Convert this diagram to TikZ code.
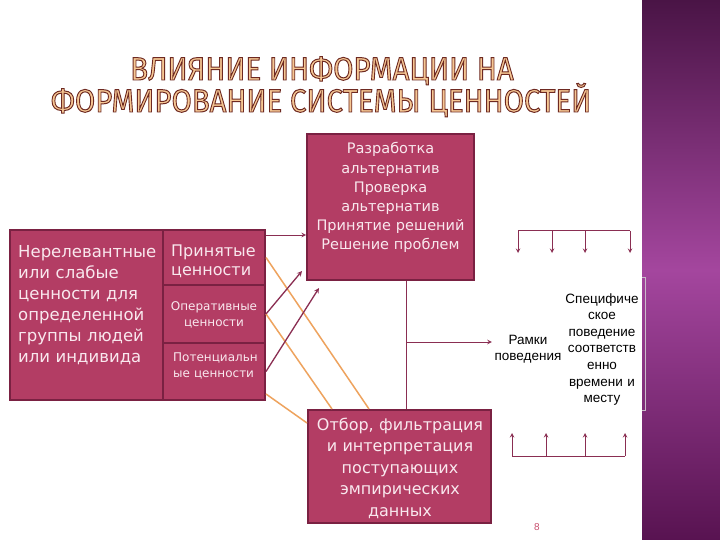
\documentclass[tikz,border=0pt]{standalone}
\usepackage{fontspec}
\setmainfont{DejaVu Sans}
\newfontfamily\arialfont{Liberation Sans}
\newfontfamily\titlefont{Fira Sans}
\definecolor{boxfill}{HTML}{B33D64}
\definecolor{boxline}{HTML}{7A2142}
\definecolor{boxtext}{HTML}{F9E8EE}
\definecolor{darkline}{HTML}{8A2E52}
\definecolor{orangeline}{HTML}{EEA35E}
\definecolor{titlefill}{HTML}{F6C794}
\definecolor{bandtop}{HTML}{4A1446}
\definecolor{bandmid}{HTML}{A4469E}
\definecolor{bandbot}{HTML}{581351}
\definecolor{bracketgray}{HTML}{C9BCC9}
\definecolor{pagenum}{HTML}{C9506F}
% outlined title letters: fill with the current colour, stroke in brown
\newcommand\outlinetext[1]{\special{pdf:literal direct 2 Tr 0.9 w 0.43 0.16 0.13 RG}#1\special{pdf:literal direct 0 Tr}}

\begin{document}
\begin{tikzpicture}[x=1pt,y=-1pt,>=stealth,
        cell/.style={draw=boxline,line width=2pt,fill=boxfill,inner sep=0pt},
        celltext/.style={text=boxtext,inner sep=0pt},
        plaintext/.style={text=black,inner sep=1pt,font=\arialfont\fontsize{13.5}{16.6}\selectfont},
        titletext/.style={anchor=base,inner sep=0pt,text=titlefill,font=\titlefont\fontsize{29.4}{30}\selectfont},
        darkarrow/.style={->,draw=darkline,line width=1.3pt},
        orangearrow/.style={draw=orangeline,line width=1.5pt}]
    \useasboundingbox (0,0) rectangle (720,540);
    \fill[white] (0,0) rectangle (720,540);
    % purple band on the right
    \shade[top color=bandtop,bottom color=bandbot,middle color=bandmid] (642,0) rectangle (720,540);
    \draw[bracketgray,line width=1pt] (642,277) -- (645,277) -- (645,410) -- (642,410);

    % title
    \node[titletext] (title1) at (322,80) {\scalebox{1}[1.1]{\outlinetext{ВЛИЯНИЕ ИНФОРМАЦИИ НА}}};
    \node[titletext] (title2) at (321,112) {\scalebox{1}[1.1]{\outlinetext{ФОРМИРОВАНИЕ СИСТЕМЫ ЦЕННОСТЕЙ}}};

    % value boxes
    \node[cell,minimum width=153pt,minimum height=170pt] (irrel) at (86.5,315) {};
    \node[cell,minimum width=102pt,minimum height=55pt] (accepted) at (214,257.5) {};
    \node[cell,minimum width=102pt,minimum height=58pt] (operative) at (214,314) {};
    \node[cell,minimum width=102pt,minimum height=57pt] (potential) at (214,371.5) {};
    \node[cell,minimum width=167pt,minimum height=146pt] (decide) at (390.5,207) {};
    \node[cell,minimum width=183pt,minimum height=113pt] (filter) at (399.5,466.5) {};

    \node[celltext,anchor=base west,text width=145pt,align=left,font=\fontsize{16.5}{21}\selectfont] (irreltxt) at (18,257)
        {Нерелевантные\\или слабые\\ценности для\\определенной\\группы людей\\или индивида};
    \node[celltext,anchor=base west,text width=92pt,align=left,font=\fontsize{16}{19.5}\selectfont] (acctxt) at (171,256)
        {Принятые\\ценности};
    \node[celltext,anchor=base,text width=98pt,align=center,font=\fontsize{12}{16}\selectfont] (optxt) at (214,310)
        {Оперативные\\ценности};
    \node[celltext,anchor=base west,text width=92pt,align=left,font=\fontsize{12}{16}\selectfont] (pottxt) at (173,361)
        {Потенциальн\\ые ценности};
    \node[celltext,anchor=base,text width=160pt,align=center,font=\fontsize{14.5}{19.2}\selectfont] (decidetxt) at (390.5,154)
        {Разработка\\альтернатив\\Проверка\\альтернатив\\Принятие решений\\Решение проблем};
    \node[celltext,anchor=base,text width=178pt,align=center,font=\fontsize{16}{21.5}\selectfont] (filtertxt) at (400,430)
        {Отбор, фильтрация\\и интерпретация\\поступающих\\эмпирических\\данных};

    % behaviour labels
    \node[plaintext,anchor=base,text width=70pt,align=center] (frame) at (528,344) {Рамки\\поведения};
    \node[plaintext,anchor=base,text width=80pt,align=center] (specific) at (602,303)
        {Специфиче\\ское\\поведение\\соответств\\енно\\времени и\\месту};
    \node[text=pagenum,inner sep=0pt,font=\arialfont\fontsize{10}{12}\selectfont] (page) at (537,527) {8};

    % connectors
    \coordinate (accout) at ([yshift=-6pt]accepted.north east);
    \draw[->,draw=darkline,line width=1pt] (accout) -- (accout -| decide.west);
    \draw[orangearrow] (accepted.east) -- ([xshift=62pt]filter.north west);
    \draw[orangearrow] (operative.east) -- ([xshift=25pt]filter.north west);
    \draw[orangearrow] ([yshift=7pt]potential.south east) -- ([yshift=-14pt]filter.north west);
    \draw[darkarrow] (operative.east) -- ([xshift=-4pt,yshift=10pt]decide.south west);
    \draw[darkarrow] (potential.east) -- ([xshift=13pt,yshift=-7pt]decide.south west);

    \coordinate (stemtop) at ([xshift=15.5pt]decide.south);
    \coordinate (stemmid) at (406,342);
    \draw[darkline,line width=1pt] (stemtop) -- (stemtop |- filter.north);
    \draw[->,darkline,line width=1pt] (stemmid) -- (stemmid -| frame.west);

    % arrow combs
    \draw[darkline,line width=1pt] (518,231) -- (630,231);
    \foreach \x in {518,552,585,630}
        \draw[->,darkline,line width=1pt] (\x,231) -- (\x,253);
    \draw[darkline,line width=1pt] (512,456) -- (625,456);
    \foreach \x in {512,546,585,625}
        \draw[->,darkline,line width=1pt] (\x,456) -- (\x,433);
\end{tikzpicture}
\end{document}
